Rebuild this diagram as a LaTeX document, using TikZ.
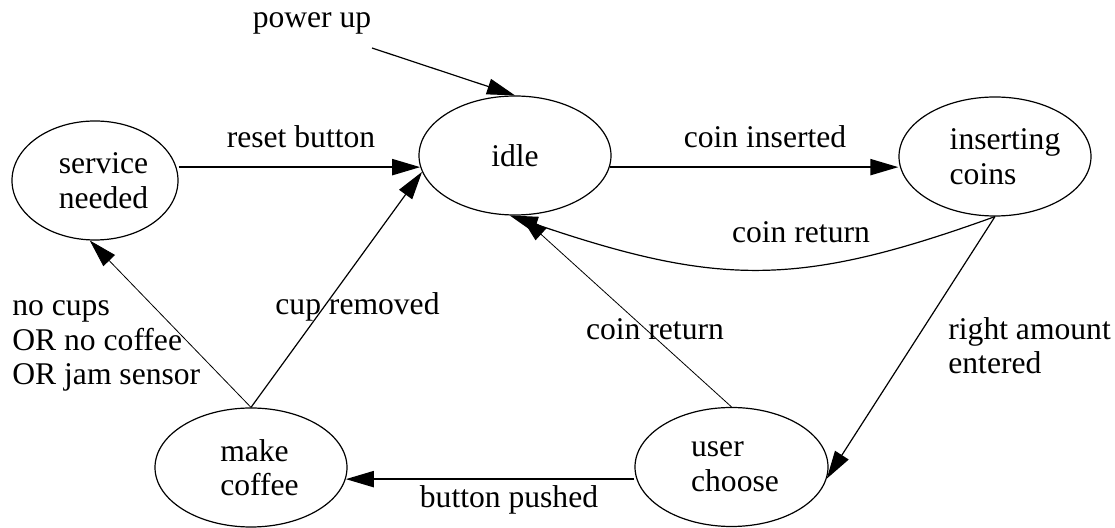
\documentclass[tikz,border=0pt]{standalone}
\usepackage{fontspec}
\setmainfont{Liberation Serif}
\usetikzlibrary{shapes.geometric,arrows.meta}

\begin{document}
\begin{tikzpicture}[
  x=0.5pt, y=-0.5pt,
  font=\fontsize{15.8}{17.3}\selectfont,
  state/.style={ellipse, draw, line width=0.6pt, inner sep=0pt,
                minimum width=#1, minimum height=59.5pt, align=left},
  arr/.style={-{Triangle[length=14pt,width=8pt]}, line width=#1},
  arr/.default=0.6pt,
  lbl/.style={inner sep=0pt, align=left}
]
  \useasboundingbox (0,0) rectangle (1115,528);
  \node[state=83pt] (serv) at (95,180.5)
    {\hspace*{8.5pt}service\\\hspace*{8.5pt}needed};
  \node[state=96pt] (idle) at (515,155.5) {idle};
  \node[state=96pt] (ins) at (995,156.5)
    {\hspace*{10pt}inserting\\\hspace*{10pt}coins};
  \node[state=96pt] (make) at (251,467.5)
    {\hspace*{8.5pt}make\\\hspace*{8.5pt}coffee};
  \node[state=96.5pt] (user) at (731.5,467)
    {\hspace*{3.5pt}user\\\hspace*{3.5pt}choose};

  \coordinate (pwr) at (372,48);
  \draw[arr] (pwr) -- (idle.north);
  \draw[arr=1pt] (serv.east |- idle.187) -- (idle.187);
  \draw[arr=1pt] (idle.-7) -- (idle.-7 -| ins.west);
  \draw[arr] (ins.south) .. controls (800,287) and (720,287) .. (idle.-95);
  \draw[arr] (ins.south) -- (user.-7);
  \draw[arr=0.4pt] (user.north) -- (idle.-85);
  \draw[arr=1pt] (user.west |- make.-7) -- (make.-7);
  \draw[arr=0.4pt] (make.north) -- (serv.-95);
  \draw[arr] (make.north) -- (idle.190);

  \node[lbl, anchor=base] (pwrlbl) at (312,28) {power up};
  \node[lbl, anchor=base] (resetlbl) at (301,148) {reset button};
  \node[lbl, anchor=base] (inslbl) at (765,148) {coin inserted};
  \node[lbl, anchor=base] (ret1lbl) at (801,243) {coin return};
  \node[lbl, anchor=base west] (nocuplbl) at (12,385)
    {no cups\\OR no coffee\\OR jam sensor};
  \node[lbl, anchor=base] (cuplbl) at (357.5,315) {cup removed};
  \node[lbl, anchor=base] (ret2lbl) at (655,340) {coin return};
  \node[lbl, anchor=base west] (amtlbl) at (948,374)
    {right amount\\entered};
  \node[lbl, anchor=base] (pushlbl) at (509,508) {button pushed};
\end{tikzpicture}
\end{document}
